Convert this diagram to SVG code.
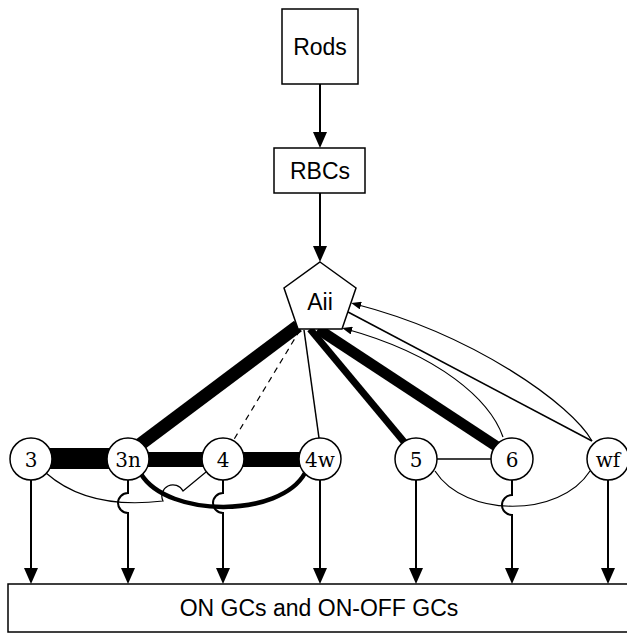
<svg xmlns="http://www.w3.org/2000/svg" width="627" height="634" viewBox="0 0 627 634">
<style>
.box{fill:#fff;stroke:#000;stroke-width:1.5}
.cell{fill:#fff;stroke:#000;stroke-width:1.5}
.sans{font-family:"Liberation Sans",Arial,sans-serif;font-size:23px;fill:#000;text-anchor:middle}
.serif{font-family:"DejaVu Serif","Liberation Serif",serif;font-size:20px;fill:#000;text-anchor:middle}
.ln{fill:none;stroke:#000}
.arr{stroke-width:2;marker-end:url(#big)}
.thin{stroke-width:1.2}
</style>
<defs>
<marker id="big" markerUnits="userSpaceOnUse" markerWidth="16" markerHeight="14" refX="8" refY="7" orient="auto">
<path d="M0,0 L16,7 L0,14 z" fill="#000"/>
</marker>
<marker id="small" markerUnits="userSpaceOnUse" markerWidth="10" markerHeight="8" refX="6" refY="4" orient="auto">
<path d="M0,0 L10,4 L0,8 z" fill="#000"/>
</marker>
</defs>
<rect width="627" height="634" fill="#fff"/>
<g id="connectors">
<line class="ln arr" x1="320" y1="84" x2="320" y2="140"/>
<line class="ln arr" x1="320" y1="193" x2="320" y2="254"/>
<line class="ln" stroke-width="13" x1="298" y1="326" x2="138" y2="446"/>
<line class="ln" stroke-width="1.2" stroke-dasharray="6,5" x1="300" y1="330" x2="233" y2="441"/>
<line class="ln" stroke-width="1.5" x1="304" y1="330" x2="319" y2="438"/>
<line class="ln" stroke-width="7" x1="310" y1="329" x2="405" y2="443"/>
<line class="ln" stroke-width="11" x1="318" y1="329" x2="499" y2="448"/>
<line class="ln" stroke-width="1.6" x1="348" y1="312" x2="592" y2="441"/>
<path class="ln thin" marker-end="url(#small)" d="M503,437 C490,400 440,355 346,329"/>
<path class="ln thin" marker-end="url(#small)" d="M592,441 C572,405 475,335 355,304"/>
<rect x="31" y="448" width="97" height="21" fill="#000"/>
<rect x="128" y="452" width="95" height="15" fill="#000"/>
<rect x="223" y="452" width="97" height="15" fill="#000"/>
<line class="ln" stroke-width="1.5" x1="437" y1="459" x2="491" y2="459"/>
<path class="ln" stroke-width="4.5" d="M141,474 C168,518 280,518 305,473"/>
<path class="ln thin" d="M46,473 Q88,510 163,501 A10,10 0 0 1 183,491 L206,472"/>
<path class="ln thin" d="M435,471 C465,518 560,518 590,471"/>
<line class="ln arr" x1="31" y1="480" x2="31" y2="576"/>
<path class="ln arr" d="M128,480 V493 A10,10 0 0 0 128,513 V576"/>
<path class="ln arr" d="M223,480 V493 A10,10 0 0 0 223,513 V576"/>
<line class="ln arr" x1="320" y1="480" x2="320" y2="576"/>
<line class="ln arr" x1="416" y1="480" x2="416" y2="576"/>
<path class="ln arr" d="M512,480 V495 A10,10 0 0 0 512,515 V576"/>
<line class="ln arr" x1="608" y1="480" x2="608" y2="576"/>
</g>
<g id="rods"><rect class="box" x="282" y="9" width="76" height="75"/><text class="sans" x="320" y="55">Rods</text></g>
<g id="rbcs"><rect class="box" x="274" y="148" width="91" height="45"/><text class="sans" x="320" y="179">RBCs</text></g>
<g id="aii"><polygon class="box" points="320,262 356,288 342,329 298,329 284,288"/><text class="sans" x="320" y="310">Aii</text></g>
<g id="n3"><circle class="cell" cx="31" cy="459" r="21"/><text class="serif" x="31" y="466.5">3</text></g>
<g id="n3n"><circle class="cell" cx="128" cy="459" r="21"/><text class="serif" x="128" y="466.5">3n</text></g>
<g id="n4"><circle class="cell" cx="223" cy="459" r="21"/><text class="serif" x="223" y="466.5">4</text></g>
<g id="n4w"><circle class="cell" cx="320" cy="459" r="21"/><text class="serif" x="320" y="466.5">4w</text></g>
<g id="n5"><circle class="cell" cx="416" cy="459" r="21"/><text class="serif" x="416" y="466.5">5</text></g>
<g id="n6"><circle class="cell" cx="512" cy="459" r="21"/><text class="serif" x="512" y="466.5">6</text></g>
<g id="nwf"><circle class="cell" cx="608" cy="459" r="21"/><text class="serif" x="608" y="466.5">wf</text></g>
<g id="gcs"><rect class="box" x="8" y="584" width="640" height="48"/><text class="sans" x="319" y="616">ON GCs and ON-OFF GCs</text></g>
</svg>
